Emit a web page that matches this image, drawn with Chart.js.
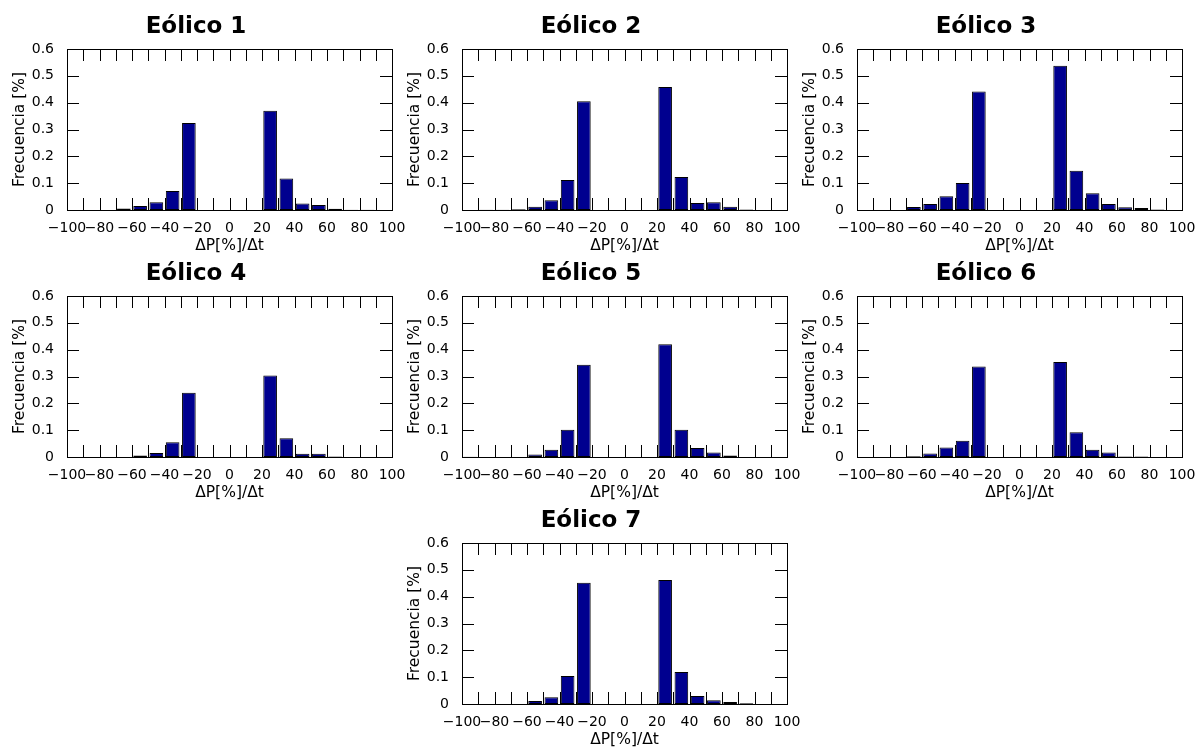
<!DOCTYPE html>
<html>
<head>
<meta charset="utf-8">
<script src="https://cdn.jsdelivr.net/npm/chart.js@4.4.0/dist/chart.umd.min.js"></script>
<style>
  html, body { margin: 0; padding: 0; background: #fff; overflow: hidden; width: 1198px; height: 749px; }
  .panel { position: absolute; width: 459px; height: 255px; }
</style>
</head>
<body>
<script>
// Bin centres of the histogram (ΔP[%]/Δt)
const bins = [-95,-85,-75,-65,-55,-45,-35,-25,-15,-5,5,15,25,35,45,55,65,75,85,95];
// Tick labels
const xTickValues = [-100,-80,-60,-40,-20,0,20,40,60,80,100];
const yTickValues = [0,0.1,0.2,0.3,0.4,0.5,0.6];
// Inner tick marks
const xMinorTicks = [-90,-80,-70,-60,-50,-40,-30,-20,-10,0,10,20,30,40,50,60,70,80,90];
const yMinorTicks = [0.1,0.2,0.3,0.4,0.5];

const titles = ['Eólico 1','Eólico 2','Eólico 3','Eólico 4','Eólico 5','Eólico 6','Eólico 7'];
const eolico1 = [0,0,0,0.006,0.015,0.029,0.071,0.324,0,0,0,0,0.370,0.117,0.024,0.019,0.005,0.001,0.001,0];
const eolico2 = [0,0.001,0.001,0.003,0.012,0.036,0.112,0.405,0,0,0,0,0.458,0.123,0.026,0.029,0.012,0.002,0,0];
const eolico3 = [0,0,0,0.011,0.022,0.051,0.101,0.442,0,0,0,0,0.538,0.146,0.062,0.022,0.010,0.007,0.002,0];
const eolico4 = [0,0,0,0,0.006,0.015,0.055,0.239,0,0,0,0,0.304,0.070,0.012,0.012,0.002,0,0,0];
const eolico5 = [0.001,0,0,0,0.009,0.027,0.102,0.344,0,0,0,0,0.420,0.102,0.034,0.017,0.006,0,0,0];
const eolico6 = [0,0,0,0.003,0.013,0.035,0.061,0.337,0,0,0,0,0.354,0.092,0.027,0.017,0.002,0.002,0,0];
const eolico7 = [0,0,0,0,0.011,0.025,0.104,0.452,0,0,0,0,0.462,0.119,0.030,0.014,0.007,0.003,0,0];
const series = [eolico1, eolico2, eolico3, eolico4, eolico5, eolico6, eolico7];

// panel canvas positions (left, top)
const positions = [[0,0],[395,0],[790,0],[0,247],[395,247],[790,247],[395,494]];

Chart.defaults.font.family = "'DejaVu Sans', 'Liberation Sans', sans-serif";
Chart.defaults.color = '#000';

const fmtX = v => (v < 0 ? '\u2212' + Math.abs(v) : String(v));
const fmtY = v => (v === 0 ? '0' : v.toFixed(1));

const frameTicks = {
  id: 'frameTicks',
  beforeDatasetsDraw(chart) {
    const { ctx, chartArea: { left, right, top, bottom }, scales: { x, y } } = chart;
    const L = 12;
    ctx.save();
    ctx.strokeStyle = '#000';
    ctx.lineWidth = 1;
    ctx.beginPath();
    xMinorTicks.forEach(v => {
      const px = Math.round(x.getPixelForValue(v)) + 0.5;
      ctx.moveTo(px, bottom); ctx.lineTo(px, bottom - L);
      ctx.moveTo(px, top); ctx.lineTo(px, top + L);
    });
    yMinorTicks.forEach(v => {
      const py = Math.round(y.getPixelForValue(v)) + 0.5;
      ctx.moveTo(left, py); ctx.lineTo(left + L, py);
      ctx.moveTo(right, py); ctx.lineTo(right - L, py);
    });
    ctx.stroke();
    ctx.restore();
  },
  afterDatasetsDraw(chart) {
    const { ctx, chartArea: { left, right, top, bottom } } = chart;
    ctx.save();
    ctx.strokeStyle = '#000';
    ctx.lineWidth = 1;
    ctx.strokeRect(Math.round(left) + 0.5, Math.round(top) + 0.5, Math.round(right - left), Math.round(bottom - top));
    ctx.restore();
  }
};

series.forEach((vals, i) => {
  const div = document.createElement('div');
  div.className = 'panel';
  div.style.left = positions[i][0] + 'px';
  div.style.top = positions[i][1] + 'px';
  const cv = document.createElement('canvas');
  cv.width = 459; cv.height = 255;
  div.appendChild(cv);
  document.body.appendChild(div);

  new Chart(cv, {
    type: 'bar',
    data: {
      datasets: [{
        data: bins.map((b, k) => ({ x: b, y: vals[k] })),
        backgroundColor: '#00008F',
        borderColor: '#000',
        borderWidth: 1,
        borderSkipped: false,
        barPercentage: 0.84,
        categoryPercentage: 1.0
      }]
    },
    plugins: [frameTicks],
    options: {
      responsive: false,
      devicePixelRatio: 1,
      animation: false,
      events: [],
      layout: { padding: { left: 0, right: 67, top: 0, bottom: 0 } },
      plugins: {
        legend: { display: false },
        tooltip: { enabled: false },
        title: {
          display: true,
          text: titles[i],
          font: { size: 23, weight: 'bold', lineHeight: 1.2 },
          color: '#000',
          padding: { top: 13.2, bottom: 8.2 }
        }
      },
      scales: {
        x: {
          type: 'linear',
          min: -100, max: 100,
          offset: false,
          grid: { display: false, offset: false },
          border: { display: false },
          afterBuildTicks: s => { s.ticks = xTickValues.map(v => ({ value: v })); },
          afterFit: s => { s.height = 45; },
          ticks: { callback: v => fmtX(v), font: { size: 14 }, padding: 2, maxRotation: 0, autoSkip: false },
          title: { display: true, text: 'ΔP[%]/Δt', font: { size: 15.5 }, padding: { top: 0, bottom: 0 } }
        },
        y: {
          min: 0, max: 0.6,
          grid: { display: false },
          border: { display: false },
          afterBuildTicks: s => { s.ticks = yTickValues.map(v => ({ value: v })); },
          afterFit: s => { s.width = 67; },
          ticks: { callback: v => fmtY(v), font: { size: 14 }, padding: 5 },
          title: { display: true, text: 'Frecuencia [%]', font: { size: 15.5 }, padding: { top: 10.7, bottom: 0 } }
        }
      }
    }
  });
});
</script>
</body>
</html>
